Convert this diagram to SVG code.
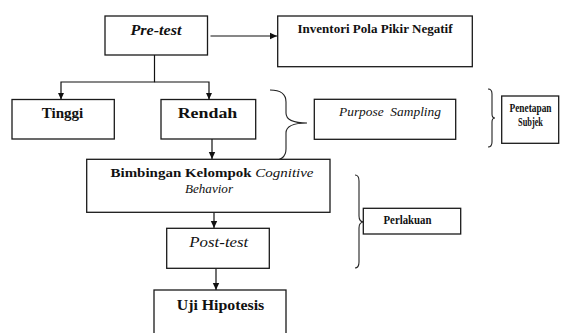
<svg xmlns="http://www.w3.org/2000/svg" width="587" height="333" viewBox="0 0 587 333">
<style>
.box{fill:#fff;stroke:#1a1a1a;stroke-width:1.3}
text{font-family:'Liberation Serif','DejaVu Serif',serif;fill:#111;text-anchor:middle}
.b{font-weight:bold}
.i{font-style:italic}
.ln{fill:none;stroke:#111;stroke-width:1.2}
.br{fill:none;stroke:#222;stroke-width:1.1}
</style>
<defs>
<marker id="ar" markerWidth="8" markerHeight="8" refX="7" refY="4" orient="auto" markerUnits="userSpaceOnUse">
<path d="M0,0.8 L7,4 L0,7.2 Z" fill="#111"/>
</marker>
</defs>
<rect width="587" height="333" fill="#fff"/>
<g id="connectors">
<line class="ln" x1="210.5" y1="36" x2="277" y2="36" marker-end="url(#ar)"/>
<polyline class="ln" points="154.5,55 154.5,82 61,82 61,99.5" marker-end="url(#ar)"/>
<polyline class="ln" points="154.5,82 209,82 209,99.5" marker-end="url(#ar)"/>
<line class="ln" x1="212" y1="139" x2="212" y2="159" marker-end="url(#ar)"/>
<line class="ln" x1="214" y1="212.5" x2="214" y2="228" marker-end="url(#ar)"/>
<line class="ln" x1="216" y1="268.5" x2="216" y2="290" marker-end="url(#ar)"/>
</g>
<g id="pretest">
<rect class="box" x="105" y="16" width="102.5" height="39"/>
<text class="i b" x="156" y="35" font-size="14" textLength="51" lengthAdjust="spacingAndGlyphs">Pre-test</text>
</g>
<g id="inventori">
<rect class="box" x="277.7" y="16" width="194.6" height="50.7"/>
<text class="b" x="375" y="33" font-size="11.5" textLength="155" lengthAdjust="spacingAndGlyphs">Inventori Pola Pikir Negatif</text>
</g>
<g id="tinggi">
<rect class="box" x="12" y="99.5" width="102.3" height="39.5"/>
<text class="b" x="62.5" y="117.5" font-size="14" textLength="41.6" lengthAdjust="spacingAndGlyphs">Tinggi</text>
</g>
<g id="rendah">
<rect class="box" x="161" y="99.5" width="94.7" height="39.5"/>
<text class="b" x="207.5" y="117.5" font-size="14" textLength="59.6" lengthAdjust="spacingAndGlyphs">Rendah</text>
</g>
<g id="brace-sampling">
<path class="br" d="M270,90 Q286,90 286,102 L286,113 Q286,123 307,123 Q286,123 286,133 L286,149 Q286,161 270,161"/>
</g>
<g id="purpose">
<rect class="box" x="314.3" y="99.3" width="141.4" height="40"/>
<text class="i" x="390" y="116" font-size="12.5" textLength="102" lengthAdjust="spacingAndGlyphs" xml:space="preserve">Purpose  Sampling</text>
</g>
<g id="brace-penetapan">
<path class="br" d="M488,89 Q492,89 492,94 L492,114 Q492,118 495,118 Q492,118 492,122 L492,142 Q492,147 488,147"/>
</g>
<g id="penetapan">
<rect class="box" x="501.7" y="96" width="57" height="47.3"/>
<text class="b" x="530.5" y="111.7" font-size="12" textLength="42" lengthAdjust="spacingAndGlyphs">Penetapan</text>
<text class="b" x="530.5" y="125.7" font-size="12" textLength="25" lengthAdjust="spacingAndGlyphs">Subjek</text>
</g>
<g id="bimbingan">
<rect class="box" x="86.7" y="159.3" width="243.3" height="53"/>
<text class="b" x="212" y="176.7" font-size="13" textLength="203" lengthAdjust="spacingAndGlyphs">Bimbingan Kelompok <tspan class="i" font-weight="normal">Cognitive</tspan></text>
<text class="i" x="209" y="193" font-size="13" textLength="48" lengthAdjust="spacingAndGlyphs">Behavior</text>
</g>
<g id="brace-perlakuan">
<path class="br" d="M355,175 Q359,175 359,181 L359,216 Q359,222 364,222 Q359,222 359,228 L359,262 Q359,268 355,268"/>
</g>
<g id="perlakuan">
<rect class="box" x="363.3" y="208.3" width="97.4" height="25.7"/>
<text class="b" x="407.5" y="224" font-size="11.5" textLength="48" lengthAdjust="spacingAndGlyphs">Perlakuan</text>
</g>
<g id="posttest">
<rect class="box" x="166.7" y="228.3" width="102.6" height="40"/>
<text class="i" x="218.8" y="246.7" font-size="14" textLength="59" lengthAdjust="spacingAndGlyphs">Post-test</text>
</g>
<g id="uji">
<rect class="box" x="154" y="290" width="132" height="50"/>
<text class="b" x="220.5" y="310" font-size="15" textLength="87.6" lengthAdjust="spacingAndGlyphs">Uji Hipotesis</text>
</g>
</svg>
